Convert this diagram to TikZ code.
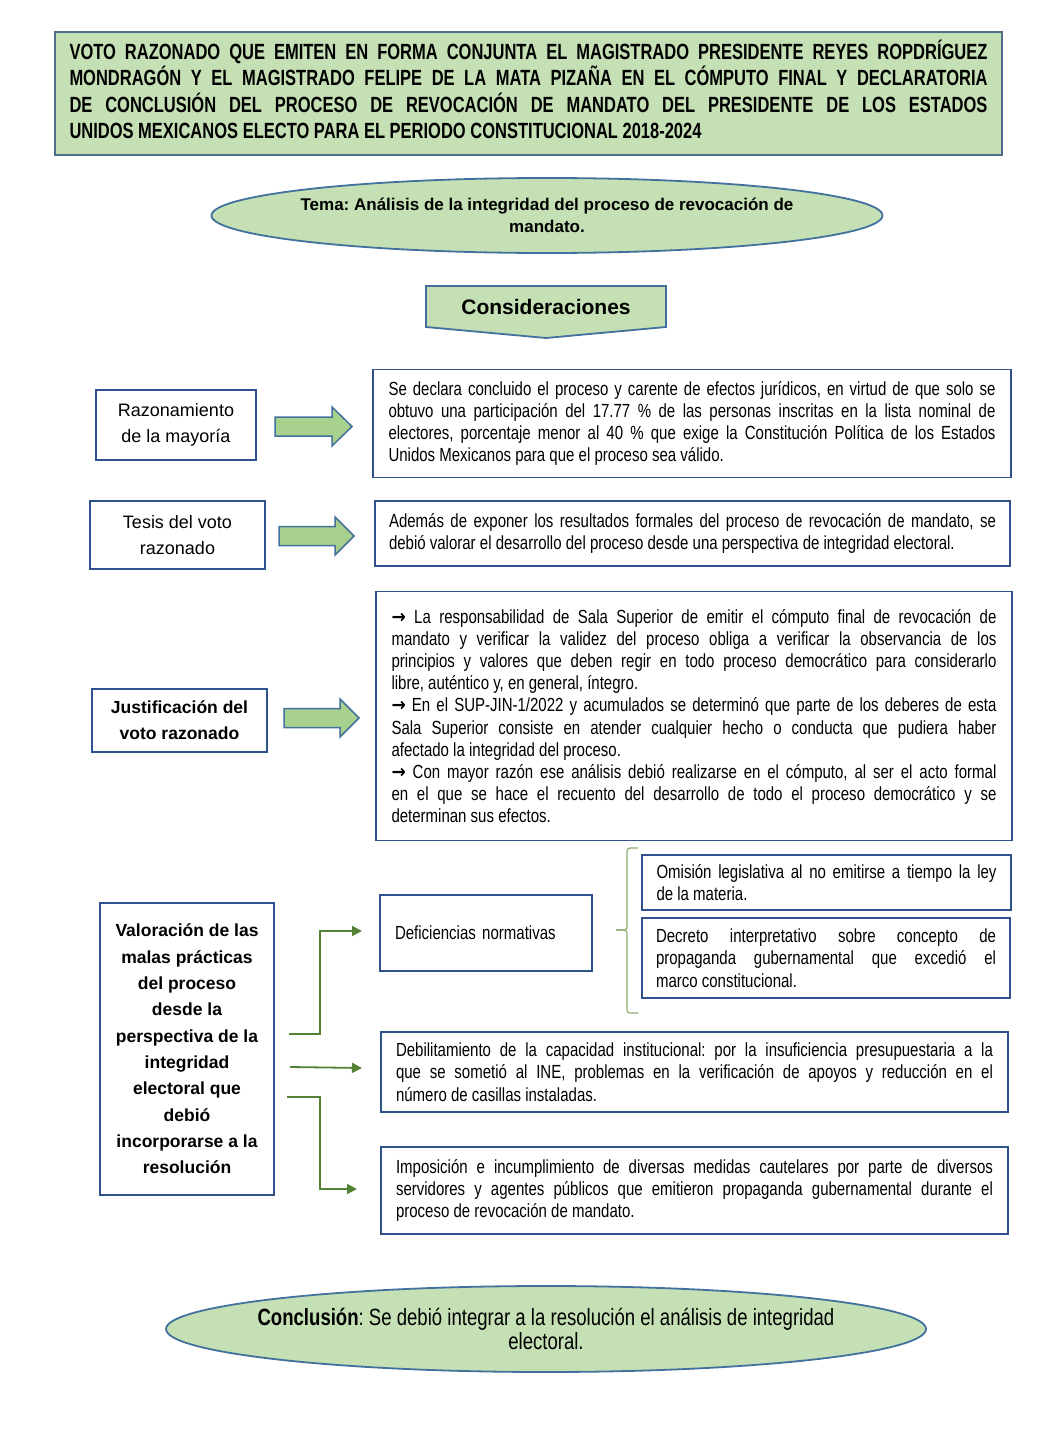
\documentclass[tikz,border=0pt]{standalone}
\usepackage{fontspec}
\setmainfont{Liberation Sans}
\newfontfamily\narrowf{Liberation Sans}[FakeStretch=0.79]
\newfontfamily\titlef{Liberation Sans}[FakeStretch=0.75]
\newfontfamily\arrowf{DejaVu Sans}[FakeStretch=0.9]
\usetikzlibrary{arrows.meta,shapes.geometric}
\definecolor{gfill}{HTML}{C5E0B4}
\definecolor{afill}{HTML}{A9D18E}
\definecolor{bord}{HTML}{2F528F}
\definecolor{ebord}{HTML}{41719C}
\definecolor{tbord}{HTML}{4F6E8C}
\definecolor{conn}{HTML}{548235}
\definecolor{brc}{HTML}{8AAE72}
\newcommand{\rarr}{{\arrowf\bfseries →}}
\frenchspacing
\tikzset{
  txtbox/.style={draw=bord, line width=1.8pt, fill=white, inner sep=0pt, align=justify,
    font=\narrowf\fontsize{19}{22.2}\selectfont},
  lbox/.style={draw=bord, line width=1.8pt, fill=white, inner sep=0pt, align=center,
    font=\fontsize{18}{26}\selectfont},
  blockarrow/.style={draw=ebord, line width=1.5pt, fill=afill, line join=miter},
  conline/.style={draw=conn, line width=1.8pt, -{Triangle[length=10pt,width=10pt]}},
  greenell/.style={ellipse, draw=ebord, line width=1.8pt, fill=gfill, inner sep=0pt}
}
\begin{document}
\begin{tikzpicture}[x=1pt,y=-1pt]
\useasboundingbox (0,0) rectangle (1048,1434);
\fill[white] (0,0) rectangle (1048,1434);

% title
\node[draw=tbord, line width=1.8pt, fill=gfill, inner sep=0pt, minimum width=947pt, minimum height=123pt] (title) at (528.5,93.5) {};
\node[inner sep=0pt, text width=918pt, align=justify, font=\titlef\bfseries\fontsize{22}{26.3}\selectfont] (titlet) at (528.5,89.5)
{VOTO RAZONADO QUE EMITEN EN FORMA CONJUNTA EL MAGISTRADO PRESIDENTE REYES ROPDRÍGUEZ\linebreak
MONDRAGÓN Y EL MAGISTRADO FELIPE DE LA MATA PIZAÑA EN EL CÓMPUTO FINAL Y DECLARATORIA\linebreak
DE CONCLUSIÓN DEL PROCESO DE REVOCACIÓN DE MANDATO DEL PRESIDENTE DE LOS ESTADOS\linebreak
UNIDOS MEXICANOS ELECTO PARA EL PERIODO CONSTITUCIONAL 2018-2024};

% tema
\node[greenell, minimum width=671pt, minimum height=75pt] (tema) at (547,215.5) {};
\node[align=center, font=\bfseries\fontsize{17}{22}\selectfont, inner sep=0pt] (temat) at (tema.center)
{Tema: Análisis de la integridad del proceso de revocación de\\mandato.};

% consideraciones
\draw[draw=ebord, line width=1.8pt, fill=gfill, line join=miter]
  (426,286) -- (666,286) -- (666,327) -- (546,338) -- (426,327) -- cycle;
\node[font=\bfseries\fontsize{21}{24}\selectfont, inner sep=0pt] (cons) at (546,307) {Consideraciones};

% left boxes
\node[lbox, minimum width=160pt, minimum height=70pt] (raz) at (176,425) {Razonamiento\\de la mayoría};
\node[lbox, minimum width=175pt, minimum height=68pt] (tes) at (177.5,535) {Tesis del voto\\razonado};
\node[lbox, minimum width=175pt, minimum height=63pt, font=\bfseries\fontsize{17.5}{26}\selectfont] (jus) at (179.5,720.5) {Justificación del\\voto razonado};
\node[lbox, minimum width=174pt, minimum height=292pt, font=\bfseries\fontsize{17.5}{26.3}\selectfont] (val) at (187,1049)
{Valoración de las\\malas prácticas\\del proceso\\desde la\\perspectiva de la\\integridad\\electoral que\\debió\\incorporarse a la\\resolución};

% block arrows
\draw[blockarrow] (275,417) -- (332,417) -- (332,407) -- (352,426.5) -- (332,446) -- (332,436) -- (275,436) -- cycle;
\draw[blockarrow] (279,526.5) -- (335,526.5) -- (335,517) -- (354,536) -- (335,555) -- (335,545.5) -- (279,545.5) -- cycle;
\draw[blockarrow] (284,708.5) -- (340,708.5) -- (340,699) -- (359,718) -- (340,737) -- (340,727.5) -- (284,727.5) -- cycle;

% right boxes
\node[txtbox, minimum width=638pt, minimum height=108pt, text width=607pt] (r1) at (692,423.5)
{Se declara concluido el proceso y carente de efectos jurídicos, en virtud de que solo se\linebreak
obtuvo una participación del 17.77 \% de las personas inscritas en la lista nominal de\linebreak
electores, porcentaje menor al 40 \% que exige la Constitución Política de los Estados\linebreak
Unidos Mexicanos para que el proceso sea válido.};

\node[txtbox, minimum width=635pt, minimum height=65pt, text width=607pt] (r2) at (692.5,533.5)
{Además de exponer los resultados formales del proceso de revocación de mandato, se\linebreak
debió valorar el desarrollo del proceso desde una perspectiva de integridad electoral.};

\node[txtbox, minimum width=636pt, minimum height=249pt, text width=605pt] (r3) at (694,716)
{\rarr{} La responsabilidad de Sala Superior de emitir el cómputo final de revocación de\linebreak
mandato y verificar la validez del proceso obliga a verificar la observancia de los\linebreak
principios y valores que deben regir en todo proceso democrático para considerarlo\linebreak
libre, auténtico y, en general, íntegro.\par
\rarr{} En el SUP-JIN-1/2022 y acumulados se determinó que parte de los deberes de esta\linebreak
Sala Superior consiste en atender cualquier hecho o conducta que pudiera haber\linebreak
afectado la integridad del proceso.\par
\rarr{} Con mayor razón ese análisis debió realizarse en el cómputo, al ser el acto formal\linebreak
en el que se hace el recuento del desarrollo de todo el proceso democrático y se\linebreak
determinan sus efectos.};

\node[txtbox, align=left, minimum width=212pt, minimum height=76pt, text width=182pt] (def) at (486,933)
{Deficiencias normativas};

\node[txtbox, minimum width=369pt, minimum height=55pt, text width=340pt] (omi) at (826.5,882.5)
{Omisión legislativa al no emitirse a tiempo la ley\linebreak de la materia.};
\node[txtbox, minimum width=368pt, minimum height=80pt, text width=340pt] (dec) at (826,958)
{Decreto interpretativo sobre concepto de\linebreak propaganda gubernamental que excedió el\linebreak marco constitucional.};

\node[txtbox, minimum width=627pt, minimum height=80pt, text width=597pt] (deb) at (694.5,1072)
{Debilitamiento de la capacidad institucional: por la insuficiencia presupuestaria a la\linebreak
que se sometió al INE, problemas en la verificación de apoyos y reducción en el\linebreak
número de casillas instaladas.};

\node[txtbox, minimum width=627pt, minimum height=87pt, text width=597pt] (imp) at (694.5,1190.5)
{Imposición e incumplimiento de diversas medidas cautelares por parte de diversos\linebreak
servidores y agentes públicos que emitieron propaganda gubernamental durante el\linebreak
proceso de revocación de mandato.};

% brace
\draw[brc, line width=1.2pt, rounded corners=3pt]
  (638,848) -- (627,848) -- (627,926) -- (627,930) -- (616,930);
\draw[brc, line width=1.2pt, rounded corners=3pt]
  (616,930) -- (627,930) -- (627,1013) -- (638,1013);

% connectors
\coordinate (s1) at (289,1034);
\coordinate (e1) at (362,931);
\coordinate (s2) at (290,1067);
\coordinate (e2) at (362,1068);
\coordinate (s3) at (287,1097);
\coordinate (e3) at (357,1189);
\draw[conline] (s1) -- (320,1034) -- (320,931) -- (e1);
\draw[conline] (s2) -- (e2);
\draw[conline] (s3) -- (320,1097) -- (320,1189) -- (e3);

% conclusion
\node[greenell, minimum width=760pt, minimum height=86pt] (conc) at (546,1329) {};
\node[align=center, font=\narrowf\fontsize{23.5}{24.5}\selectfont, inner sep=0pt] (conct) at (conc.center)
{\textbf{Conclusión}: Se debió integrar a la resolución el análisis de integridad\\electoral.};
\end{tikzpicture}
\end{document}
